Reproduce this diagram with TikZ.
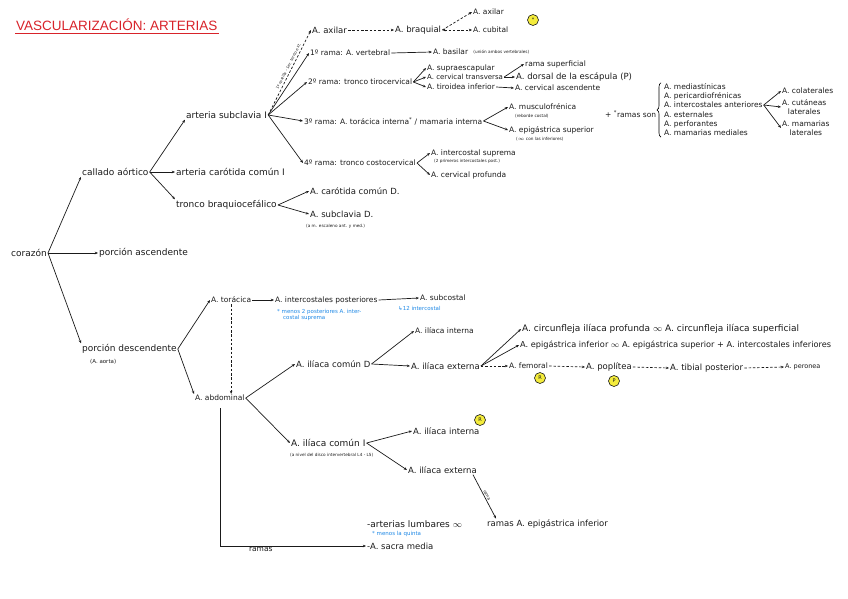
\documentclass[tikz,border=0pt]{standalone}
\usepackage{fontspec}
\setmainfont{DejaVu Sans}
\newfontfamily\titlefont{Liberation Sans}
\usetikzlibrary{arrows.meta,positioning,calc,decorations.pathreplacing}
\definecolor{ink}{HTML}{1A1A1A}
\definecolor{titlered}{HTML}{D8232A}
\definecolor{noteblue}{HTML}{1E88E5}
\definecolor{marker}{HTML}{F4EC3C}

\begin{document}
\begin{tikzpicture}[x=1pt,y=-1pt,
    >={Stealth[length=3.2pt,width=2.6pt]},
    every node/.style={inner sep=1pt,anchor=west,text=ink},
    big/.style={font=\fontsize{9}{10}\selectfont},
    art/.style={font=\fontsize{7.5}{9}\selectfont},
    wide/.style={font=\fontsize{8.5}{10}\selectfont},
    note/.style={font=\fontsize{4.2}{5}\selectfont},
    blue note/.style={font=\fontsize{5.5}{6.5}\selectfont,text=noteblue,align=left},
    link/.style={->,draw=ink,line width=0.7pt},
    dlink/.style={link,dash pattern=on 2.5pt off 1.8pt},
    star/.style={circle,draw=ink,fill=marker,line width=0.6pt,minimum size=11pt,
      inner sep=0pt,anchor=center,font=\fontsize{5}{5}\selectfont}
  ]
  \useasboundingbox (0,0) rectangle (848,599);

  % titulo
  \node[font=\titlefont\fontsize{13.5}{15}\selectfont,text=titlered] (title) at (15,25) {VASCULARIZACIÓN: ARTERIAS};
  \draw[titlered,line width=0.9pt] ([yshift=-1pt]title.south west) -- ([yshift=-1pt]title.south east);

  % tronco principal
  \node[big] (cor) at (10,253) {corazón};
  \node[big] (cay) at (81,172) {callado aórtico};
  \node[big] (asc) at (98,253) {porción ascendente};
  \node[big] (desc) at (81,349) {porción descendente};
  \node[font=\fontsize{5.5}{6}\selectfont] (aorta) at (89,362) {(A. aorta)};
  \draw[link] (cor.east) -- (cay.south west);
  \draw[link] (cor.east) -- (asc.west);
  \draw[link] (cor.east) -- (desc.north west);

  % callado aortico
  \node[big] (sub) at (185,115) {arteria subclavia I};
  \node[big] (car) at (175,172) {arteria carótida común I};
  \node[big] (bra) at (175,205) {tronco braquiocefálico};
  \draw[link] (cay.east) -- (sub.south west);
  \draw[link] (cay.east) -- (car.west);
  \draw[link] (cay.east) -- (bra.north west);

  % subclavia I
  \node[wide] (ax1) at (311,30) {A. axilar};
  \node[wide] (braq) at (394,30) {A. braquial};
  \node[art] (ax2) at (472,12) {A. axilar};
  \node[art] (cub) at (472,30) {A. cubital};
  \node[star] (s1) at (533,20) {*};
  \node[art] (r1) at (309,53) {1º rama: A. vertebral};
  \node[art] (bas) at (432,52) {A. basilar};
  \node[note,right=3pt of bas] (basn) {(unión ambos vertebrales)};
  \node[art] (r2) at (307,82) {2º rama: tronco tirocervical};
  \node[art] (supr) at (426,68) {A. supraescapular};
  \node[font=\fontsize{7}{8}\selectfont] (ctra) at (426,77) {A. cervical transversa};
  \node[art] (tiro) at (426,87) {A. tiroidea inferior};
  \node[art] (rsup) at (524,64) {rama superficial};
  \node[wide] (dors) at (515,77) {A. dorsal de la escápula (P)};
  \node[art] (casc) at (514,88) {A. cervical ascendente};
  \node[art] (r3) at (303,121) {3º rama: A. torácica interna\textsuperscript{*} / mamaria interna};
  \node[art] (musc) at (508,107) {A. musculofrénica};
  \node[note] (muscn) at (514,116) {(reborde costal)};
  \node[art] (epis) at (508,130) {A. epigástrica superior};
  \node[note] (episn) at (515,139) {($\infty$ con las inferiores)};
  \node[art] (rson) at (604,114) {+ \textsuperscript{*}ramas son};
  \node[art] (med) at (663,87) {A. mediastínicas};
  \node[art] (peri) at (663,96) {A. pericardiofrénicas};
  \node[art] (ica) at (663,105) {A. intercostales anteriores};
  \node[art] (est) at (663,115) {A. esternales};
  \node[art] (perf) at (663,124) {A. perforantes};
  \node[art] (mam) at (663,133) {A. mamarias mediales};
  \draw[decorate,decoration={brace,amplitude=4pt},line width=0.6pt]
    ([xshift=-2pt]mam.south west) -- ([xshift=-2pt]med.north west);
  \node[art] (col) at (781,91) {A. colaterales};
  \node[art,align=center] (cut) at (781,107) {A. cutáneas\\laterales};
  \node[art,align=center] (mlat) at (781,128) {A. mamarias\\laterales};
  \node[art] (r4) at (303,163) {4º rama: tronco costocervical};
  \node[art] (supm) at (430,153) {A. intercostal suprema};
  \node[note] (supmn) at (433,161) {(2 primeros intercostales post.)};
  \node[art] (cprof) at (430,175) {A. cervical profunda};

  \draw[dlink] (sub.east) -- node[font=\fontsize{3.8}{4}\selectfont,sloped,above=2pt,pos=0.55,inner sep=0pt] {1ª costilla - 1er. tercio ext.} (ax1.west);
  \draw[link] (sub.east) -- (r1.west);
  \draw[link] (sub.east) -- (r2.west);
  \draw[link] (sub.east) -- (r3.west);
  \draw[link] (sub.east) -- (r4.west);
  \draw[dlink] (ax1.east) -- (braq.west);
  \draw[dlink] (braq.east) -- (ax2.west);
  \draw[dlink,<->] (braq.east) -- (cub.west);
  \draw[link] (r1.east) -- (bas.west);
  \draw[link] (r2.east) -- (supr.west);
  \draw[link] (r2.east) -- (ctra.west);
  \draw[link] (r2.east) -- (tiro.west);
  \draw[link] (ctra.east) -- (rsup.west);
  \draw[link] (ctra.east) -- (dors.west);
  \draw[link] (tiro.east) -- (casc.west);
  \draw[link] (r3.east) -- (musc.west);
  \draw[link] (r3.east) -- (epis.west);
  \draw[link] (ica.east) -- (col.west);
  \draw[link] (ica.east) -- (cut.west);
  \draw[link] (ica.east) -- (mlat.west);
  \draw[link] (r4.east) -- (supm.west);
  \draw[link] (r4.east) -- (cprof.west);

  % tronco braquiocefalico
  \node[wide] (carD) at (309,191) {A. carótida común D.};
  \node[wide] (subD) at (309,214) {A. subclavia D.};
  \node[note] (subDn) at (305,226) {(a m. escaleno ant. y med.)};
  \draw[link] (bra.east) -- (carD.west);
  \draw[link] (bra.east) -- (subD.west);

  % porcion descendente
  \node[art] (tor) at (210,300) {A. torácica};
  \node[art] (icp) at (274,300) {A. intercostales posteriores};
  \node[blue note] (icpn) at (276,315) {* menos 2 posteriores A. inter-\\\hspace*{6pt}costal suprema};
  \node[art] (subc) at (419,298) {A. subcostal};
  \node[blue note] (subcn) at (397,308) {↳12 intercostal};
  \node[art] (abd) at (194,398) {A. abdominal};
  \draw[link] (desc.east) -- (tor.west);
  \draw[link] (desc.east) -- (abd.north west);
  \draw[link] (tor.east) -- (icp.west);
  \draw[link] (icp.east) -- (subc.west);
  \draw[dlink] (tor.south) -- (tor.south |- abd.north);

  % iliaca comun D
  \node[wide] (icD) at (295,364) {A. ilíaca común D};
  \node[art] (iiD) at (414,331) {A. ilíaca interna};
  \node[wide] (ieD) at (410,366) {A. ilíaca externa};
  \node[font=\fontsize{9}{10}\selectfont] (circ) at (521,329) {A. circunfleja ilíaca profunda $\infty$ A. circunfleja ilíaca superficial};
  \node[font=\fontsize{8.2}{9}\selectfont] (epii) at (519,345) {A. epigástrica inferior $\infty$ A. epigástrica superior + A. intercostales inferiores};
  \node[art] (fem) at (508,366) {A. femoral};
  \node[wide] (pop) at (585,367) {A. poplítea};
  \node[wide] (tib) at (669,368) {A. tibial posterior};
  \node[font=\fontsize{6.5}{7}\selectfont] (per) at (784,367) {A. peronea};
  \node[star] (s2) at (540,378) {R};
  \node[star] (s3) at (614,381) {P};
  \draw[link] (abd.east) -- (icD.west);
  \draw[link] (icD.east) -- (iiD.west);
  \draw[link] (icD.east) -- (ieD.west);
  \draw[link] (ieD.east) -- (circ.west);
  \draw[link] (ieD.east) -- (epii.west);
  \draw[dlink] (ieD.east) -- (fem.west);
  \draw[dlink] (fem.east) -- (pop.west);
  \draw[dlink] (pop.east) -- (tib.west);
  \draw[dlink] (tib.east) -- (per.west);

  % iliaca comun I
  \node[font=\fontsize{9}{10}\selectfont] (icI) at (290,443) {A. ilíaca común I};
  \node[note] (icIn) at (289,455) {(a nivel del disco intervertebral L4 - L5)};
  \node[wide] (iiI) at (412,431) {A. ilíaca interna};
  \node[star] (s4) at (480,420) {R};
  \node[wide] (ieI) at (407,470) {A. ilíaca externa};
  \draw[link] (abd.east) -- (icI.west);
  \draw[link] (icI.east) -- (iiI.west);
  \draw[link] (icI.east) -- (ieI.west);

  % ramas aorta abdominal
  \node[font=\fontsize{9}{10}\selectfont] (lumb) at (366,524) {-arterias lumbares $\infty$};
  \node[wide] (repi) at (486,524) {ramas A. epigástrica inferior};
  \node[blue note] (lumbn) at (371,534) {* menos la quinta};
  \node[wide] (sacra) at (366,546) {-A. sacra media};
  \draw[link] ([xshift=-5pt]ieI.south east) -- node[note,sloped,above] {rama} ([xshift=10pt]repi.north west);
  \draw[link] ([yshift=-6pt]abd.south) |- node[art,pos=0.64,below] {ramas} (sacra.west);
\end{tikzpicture}
\end{document}
